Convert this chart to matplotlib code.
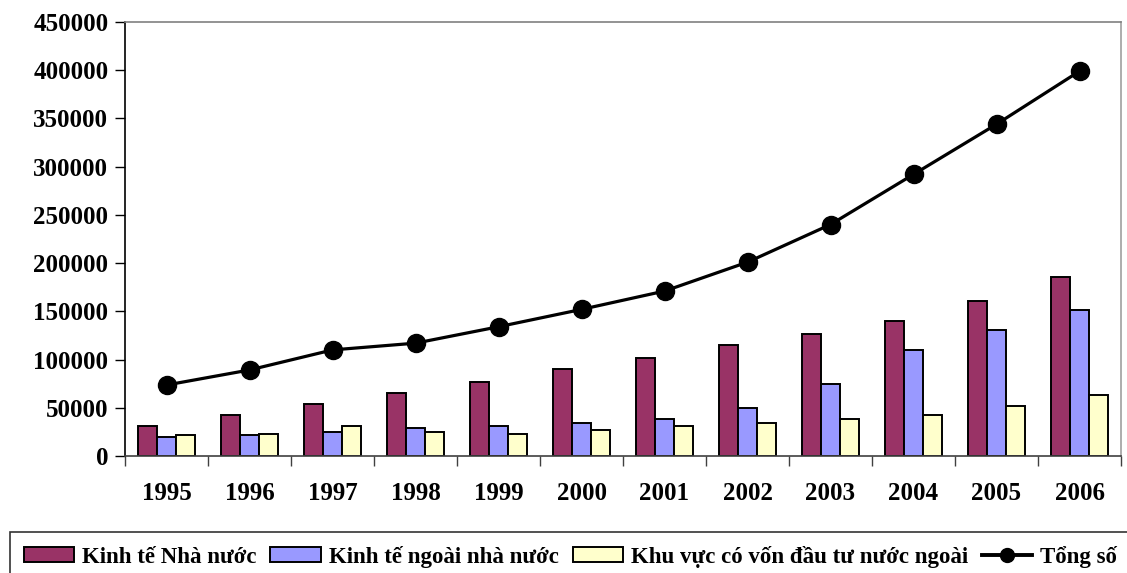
import numpy as np
import matplotlib.pyplot as plt
from matplotlib.patches import Patch
from matplotlib.lines import Line2D

plt.rcParams['font.family'] = ['Liberation Serif', 'DejaVu Serif']
plt.rcParams['font.weight'] = 'bold'

years = ['1995', '1996', '1997', '1998', '1999', '2000',
         '2001', '2002', '2003', '2004', '2005', '2006']
nha_nuoc = [31000, 42500, 54000, 65300, 76800, 90200,
            102000, 115000, 127000, 140000, 161000, 186000]
ngoai_nha_nuoc = [19700, 21800, 25200, 29400, 31400, 34500,
                  38700, 50100, 75000, 109600, 130300, 151400]
fdi = [21400, 23100, 31100, 25200, 23100, 27000,
       31100, 34500, 38700, 42500, 52200, 63600]
tong_so = [73600, 89200, 110000, 117000, 134000, 152000,
           171000, 201000, 240000, 292000, 344000, 399000]

labels = ['Kinh tế Nhà nước', 'Kinh tế ngoài nhà nước',
          'Khu vực có vốn đầu tư nước ngoài', 'Tổng số']
colors = ['#993366', '#9999ff', '#ffffcc']

fig = plt.figure(figsize=(11.27, 5.73), dpi=100)
ax = fig.add_axes([125/1127, 117/573, 996/1127, 434/573])

x = np.arange(len(years))
w = 0.225
for i, vals in enumerate([nha_nuoc, ngoai_nha_nuoc, fdi]):
    ax.bar(x + (i - 1) * w, vals, w, color=colors[i], edgecolor='black', linewidth=1.4, zorder=2)
ax.plot(x, tong_so, color='black', lw=2.3, marker='o', ms=13, zorder=3)

ax.set_xlim(-0.5, len(years) - 0.5)
ax.set_ylim(0, 450000)
ax.set_yticks(np.arange(0, 450001, 50000))
ax.set_yticklabels([str(v) for v in range(0, 450001, 50000)], fontsize=18, fontweight='bold')
ax.set_xticks(x)
ax.set_xticklabels(years, fontsize=18, fontweight='bold')
ax.set_xticks(np.arange(-0.5, len(years)), minor=True)
ax.tick_params(axis='x', which='major', length=0, pad=19)
ax.tick_params(axis='x', which='minor', length=7, width=1, color='#404040')
ax.tick_params(axis='y', length=7, width=1, pad=5)

ax.spines['left'].set_color('black')
ax.spines['bottom'].set_color('#404040')
ax.spines['top'].set_color('#808080')
ax.spines['right'].set_color('#a0a0a0')
for s in ax.spines.values():
    s.set_linewidth(1.2)

handles = [Patch(facecolor=c, edgecolor='black', linewidth=1.4) for c in colors]
handles.append(Line2D([], [], color='black', lw=2.8, marker='o', ms=10))
leg = fig.legend(handles, labels, loc='upper left', bbox_to_anchor=(10/1127, 1 - 532/573),
                 ncol=4, frameon=True, fancybox=False, edgecolor='black',
                 prop={'size': 16.5, 'weight': 'bold'}, handlelength=2.2, handleheight=0.6,
                 handletextpad=0.35, columnspacing=0.6, borderpad=0.6, borderaxespad=0)
leg.get_frame().set_linewidth(1.2)

fig.savefig('out.png', dpi=100)
